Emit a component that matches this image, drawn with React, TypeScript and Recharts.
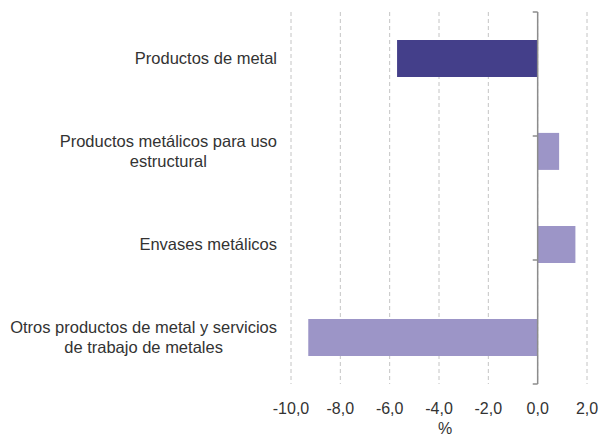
import React from 'react';
import { BarChart, Bar, XAxis, YAxis, CartesianGrid, ReferenceLine, Cell } from 'recharts';

// categories (lines of each label) and values in %
const categories = [
  'Productos de metal',
  'Productos metálicos para uso|estructural',
  'Envases metálicos',
  'Otros productos de metal y servicios|de trabajo de metales',
];
const values = [-5.7, 0.87, 1.53, -9.3];
const xTicks = [-10, -8, -6, -4, -2, 0, 2];
const barColors = ['#443f8a', '#9c95c7', '#9c95c7', '#9c95c7'];

const data = categories.map((name, i) => ({ name, value: values[i] }));
const boundaries = categories.map((_, i) => i).concat(categories.length);

const FONT = '"Liberation Sans", Arial, sans-serif';
const TEXT = '#333333';
const CAT_SIZE = 16.5;

let ctx: CanvasRenderingContext2D | null = null;
const measure = (s: string) => {
  if (!ctx) ctx = document.createElement('canvas').getContext('2d');
  if (!ctx) return s.length * 8;
  ctx.font = CAT_SIZE + 'px "Liberation Sans"';
  return ctx.measureText(s).width;
};

const CategoryTick = (props: any) => {
  const { x, y, payload } = props;
  const lines: string[] = String(payload.value).split('|');
  const maxW = Math.max(...lines.map(measure));
  const right = x - 14;
  const cx = right - maxW / 2;
  const lh = 20;
  const startY = y - ((lines.length - 1) * lh) / 2;
  return (
    <g>
      {lines.map((l, i) => (
        <text key={i} x={cx} y={startY + i * lh} dy="0.35em" textAnchor="middle"
          fontSize={CAT_SIZE} fontFamily={FONT} fill={TEXT}>
          {l}
        </text>
      ))}
    </g>
  );
};

const fmt = (v: number) => v.toFixed(1).replace('.', ',');

export default function App() {
  return (
    <div style={{ position: 'absolute', left: 0, top: 0, background: '#fff' }}>
      <BarChart
        width={599}
        height={438}
        data={data}
        layout="vertical"
        barCategoryGap="30%"
        margin={{ top: 12, right: 12, left: 0, bottom: 0 }}
      >
        <CartesianGrid horizontal={false} stroke="#c4c4c4" strokeDasharray="4 3" />
        <XAxis
          type="number"
          domain={[-10, 2]}
          ticks={xTicks}
          tickFormatter={fmt}
          axisLine={false}
          tickLine={false}
          tickSize={0}
          tickMargin={19}
          height={54}
          tick={{ fontSize: 16, fontFamily: FONT, fill: TEXT }}
          label={{ value: '%', position: 'insideBottom', offset: 4, dx: 6, fontSize: 16, fontFamily: FONT, fill: TEXT }}
        />
        <YAxis
          type="category"
          dataKey="name"
          width={291}
          axisLine={false}
          tickLine={false}
          tickSize={0}
          tickMargin={0}
          tick={<CategoryTick />}
        />
        <YAxis yAxisId="b" type="number" domain={[0, categories.length]} hide />
        <Bar dataKey="value" isAnimationActive={false}>
          {data.map((_, i) => (
            <Cell key={i} fill={barColors[i]} />
          ))}
        </Bar>
        <ReferenceLine x={0} stroke="#8c8c8c" strokeWidth={1.5} />
        {boundaries.map((b) => (
          <ReferenceLine
            key={b}
            yAxisId="b"
            segment={[{ x: -0.2, y: b }, { x: 0, y: b }]}
            stroke="#8c8c8c"
            strokeWidth={1.5}
          />
        ))}
      </BarChart>
    </div>
  );
}
